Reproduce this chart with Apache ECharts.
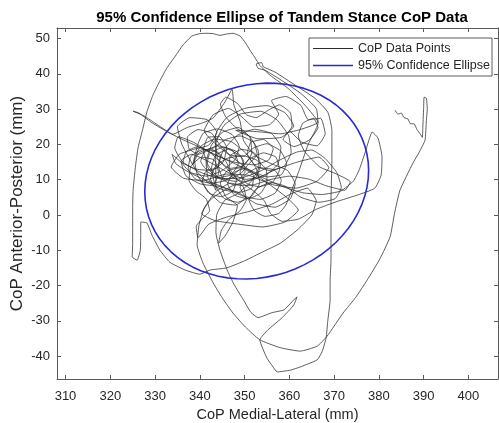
<!DOCTYPE html>
<html>
<head>
<meta charset="utf-8">
<script src="https://cdn.jsdelivr.net/npm/echarts@6/dist/echarts.min.js"></script>
<style>
html,body{margin:0;padding:0;background:#fff;}
#chart{width:499px;height:423px;}
</style>
</head>
<body>
<div id="chart"></div>
<script>
// ---- Axis ranges ----
const xRange = [308.1, 406.6];
const yRange = [-46.5, 53.0];

// ---- Labels ----
const titleText = '95% Confidence Ellipse of Tandem Stance CoP Data';
const xLabel = 'CoP Medial-Lateral (mm)';
const yLabel = 'CoP Anterior-Posterior (mm)';
const seriesNames = ['CoP Data Points', '95% Confidence Ellipse'];

// ---- CoP trajectory (medial-lateral mm, anterior-posterior mm) ----
const copPath = [
[383.6,29.7],[384.2,28.6],[385.0,28.9],[385.6,27.6],[386.5,27.2],[387.0,25.9],[387.9,25.8],[388.5,24.2],[389.2,23.0],[389.7,22.0],[389.8,24.5],[389.9,27.7],[390.0,30.5],[390.1,33.4],[390.6,33.1],[390.8,30.0],[390.6,26.8],[390.3,21.2],[389.0,17.8],[387.6,14.7],[384.7,7.0],[383.5,0.5],[382.5,-6.2],[380.2,-12.5],[377.4,-18.4],[374.8,-23.4],[372.0,-27.8],[368.4,-34.4],[366.2,-37.2],[362.4,-38.6],[357.9,-37.6],[353.4,-35.4],[350.2,-31.8],[347.4,-27.8],[345.0,-23.5],[343.0,-19.3],[340.7,-13.6],[339.4,-8.5],[339.8,-3.0],[341.0,2.0],
[343.5,6.5],[346.8,9.0],[349.6,8.2],[350.3,5.1],[348.0,2.8],[344.6,3.5],[341.8,6.8],[339.5,11.2],[338.8,15.6],[340.2,19.5],[343.4,21.5],[347.0,20.8],[350.2,17.6],[352.5,13.4],[353.4,9.2],[351.6,5.4],[348.4,3.6],[345.3,4.8],[343.4,8.6],[342.6,13.2],[343.6,17.0],[346.4,18.6],[349.2,16.4],[350.1,12.3],[348.2,9.5],[345.2,10.3],[344.1,14.2],[345.3,18.4],[348.4,22.6],[352.2,24.3],[356.0,23.1],[358.1,19.2],[357.4,14.3],[354.4,11.0],[350.2,10.1],[346.1,12.2],[342.0,15.1],[338.2,17.2],[335.8,15.3],[336.9,11.1],[340.1,8.8],[344.2,8.1],[348.5,6.4],[352.6,3.2],[356.8,2.2],[360.2,4.6],[361.3,8.8],[359.6,12.6],[356.2,14.4],[352.4,16.8],[349.8,21.0],[349.0,26.5],[347.6,31.2],[347.2,35.6],
[345.6,32.0],[343.0,27.5],[340.4,26.0],[337.2,24.8],[334.0,22.9],[330.5,25.6],[327.5,28.1],[325.1,29.4],[326.4,28.9],[329.0,26.4],[332.4,23.8],[336.1,21.4],[340.0,19.2],[344.6,16.4],[349.4,13.6],[354.0,10.6],[358.6,8.0],[363.0,6.3],[367.2,5.8],[371.5,6.8],[374.3,9.6],[375.6,12.8],[377.0,18.0],[378.5,23.5],[379.8,21.8],[380.7,16.4],[380.5,11.3],[379.1,7.6],[375.1,5.6],[370.6,3.8],[366.0,1.6],[362.0,-1.2],[358.4,-1.8],[355.8,0.4],[354.4,4.0],[352.0,6.8],[348.6,9.8],[345.4,14.0],[342.2,17.8],[339.4,19.3],[337.0,18.0],[336.2,14.6],[338.0,12.0],[341.6,11.0],[345.0,12.6],[347.8,15.6],[348.8,19.4],[347.2,22.8],[344.0,24.4],[340.8,23.2],[339.6,20.2],
[338.4,14.2],[339.8,17.6],[342.4,18.8],[344.6,16.6],[344.0,13.4],[341.6,12.8],[340.2,15.2],[341.2,18.2],[344.2,19.6],[347.4,18.2],[348.6,14.6],[347.0,11.4],[344.0,10.6],[341.4,12.4],[340.6,9.6],[342.0,6.2],[344.8,5.2],[347.4,6.8],[348.2,10.2],[346.6,13.4],[346.8,16.8],[349.4,18.6],[352.2,17.6],[353.6,14.4],[352.6,10.8],[349.8,9.4],[347.2,10.8],[346.0,14.8],[344.0,17.8],[340.8,18.6],[338.0,16.6],[337.4,13.0],[339.2,10.0],[342.6,9.0],[345.8,9.8],[348.6,12.6],[351.0,15.8],[354.2,17.6],[357.0,16.4],[357.8,12.8],[356.2,9.2],[353.2,8.0],[350.4,9.0],[349.0,12.0],[349.8,15.2],[348.2,18.0],[345.2,19.2],[342.2,17.4],[341.6,14.0],[343.4,11.0],[346.4,10.2],[349.2,11.8],[350.6,14.0],[352.8,17.2],[352.0,20.6],[349.0,22.4],[345.8,21.4],[343.0,19.0],[339.6,17.2],[337.6,18.8],[337.2,22.0],[339.6,24.2],[342.6,23.2],[344.4,20.0],[346.8,17.0],[349.8,16.6],[352.0,19.0],[355.0,20.2],[358.0,18.2],[359.4,14.6],[358.2,11.4],[355.0,10.8],[352.4,12.0],[350.2,13.2],[347.6,12.0],[346.2,8.8],[347.8,5.6],[350.8,4.6],[353.6,6.2],[355.0,9.4],[354.8,13.0],[352.6,15.6],[349.6,16.8],[346.0,16.0],[343.4,13.6],[342.4,10.2],[343.6,7.0],
[343.5,22.6],[346.0,27.6],[350.0,30.2],[355.0,31.0],[359.0,29.0],[361.0,25.2],[358.2,22.0],[353.0,21.6],[348.0,24.0],[353.0,23.6],[358.0,23.0],[362.4,24.2],[366.4,26.3],[363.5,31.1],[359.7,35.9],[355.7,39.6],
[353.4,42.4],[352.8,43.6],[352.0,45.2],[351.2,46.7],[350.2,48.8],[349.0,50.7],[347.4,51.5],[346.0,51.3],[344.5,50.9],[343.0,51.4],[341.6,51.5],[340.0,51.4],[338.2,50.7],[336.2,48.1],[334.4,44.8],[332.6,41.6],[331.0,37.8],[329.5,33.9],[328.2,29.3],[327.3,24.6],[326.2,19.0],[325.6,13.5],[325.1,7.0],[325.0,2.0],[325.0,-3.5],[325.0,-8.0],[324.9,-11.9],[326.0,-12.8],[326.7,-10.0],[326.8,-5.8],[326.8,-2.0],[328.2,-2.3],[329.3,-5.7],[331.1,-10.0],[333.3,-13.4],[336.7,-15.6],[340.0,-16.8],[342.3,-15.6],
[346.0,-15.0],[350.0,-13.0],[354.0,-10.5],[358.0,-8.0],[362.0,-4.0],[365.0,0.0],[366.0,4.0],[364.0,7.6],[360.4,6.0],[356.0,3.0],[351.0,1.0],[346.0,-0.6],[342.0,-2.6],[339.6,-6.4],[339.2,-3.2],[340.6,-1.0],
[342.2,1.2],[341.4,4.6],[339.2,6.8],[337.6,9.8],[338.0,13.8],[340.4,16.4],[343.2,15.6],[344.2,12.0],[343.0,8.4],[341.8,10.6],[341.4,14.8],[342.6,19.8],[345.0,23.4],[348.6,24.8],[351.2,22.0],[351.6,17.6],[349.8,14.0],[346.6,13.2],[344.0,16.0],[343.6,20.2],[345.4,25.4],[349.0,28.6],[353.6,29.4],[357.2,27.0],[359.8,22.6],[360.4,17.8],[358.8,13.8],[355.6,12.6],[352.4,14.0],[350.6,17.4],[351.4,20.6],[354.2,21.4],[356.4,18.8],[355.4,15.6],[352.0,14.2],[347.6,15.0],[343.0,17.2],[338.6,20.6],[335.2,22.2],[334.4,19.0],[336.2,15.0],[340.0,12.2],[344.8,10.2],[349.6,10.6],[353.8,12.6],[357.6,15.4],[361.6,17.8],[365.0,18.4],[368.0,16.0],[370.6,12.0],[371.6,7.8],[370.2,4.6],[366.6,3.6],[362.6,5.0],[359.0,8.2],[355.8,9.2],[352.6,7.4],[351.0,4.2],[352.2,1.2],[354.6,-0.4],[357.6,0.4],[359.2,2.8],
[362.0,12.0],[364.2,20.0],[366.4,26.0],[366.0,30.2],[362.5,34.5],[358.2,38.2],[354.6,41.0],[353.0,41.6],[352.6,42.8],[353.8,43.2],[354.2,42.0],[356.8,40.5],[361.3,36.8],[365.7,33.1],[368.6,29.1],[369.5,24.0],[369.5,15.5],[369.3,4.2],[369.3,-1.5],[369.3,-7.0],[369.3,-12.8],[369.1,-18.6],[369.1,-24.1],[368.6,-29.8],[368.2,-34.9],[367.3,-38.8],[366.2,-41.1],[364.2,-42.2],[362.4,-43.1],[360.2,-44.0],[357.3,-44.5],[356.2,-42.8],[355.0,-40.6],[353.4,-35.4],[355.2,-32.6],[358.4,-29.1],[361.0,-25.5],[361.7,-23.2],[360.6,-24.6],[358.8,-26.9],[356.1,-27.7],[353.0,-29.1],[351.4,-27.6],[349.7,-24.0],[347.6,-19.6],[346.1,-15.6],[344.5,-10.0],[343.6,-5.0],[343.8,0.2],
[345.6,4.2],[348.4,6.0],[351.4,9.4],[353.2,13.6],[353.0,18.4],[351.0,22.4],[348.2,24.6],[345.8,27.8],[344.6,31.4],[345.8,33.4],[348.4,31.6],[350.4,28.4],[352.6,27.6],[355.4,29.8],[357.8,31.2],[360.2,29.0],[360.6,25.2],[358.6,21.4],[361.0,19.4],[364.4,21.2],[366.4,24.8],[365.4,27.4],[363.0,26.0],[362.0,22.4],[363.4,18.0],[366.8,13.6],[370.2,11.8],[373.6,9.4],[372.4,7.0],[368.4,8.2],[364.2,10.2],[360.0,11.0],[355.6,10.0],[351.4,8.4],[347.4,8.6],[344.0,10.8],[341.8,14.2],[340.8,18.4],[341.8,22.0],[344.4,22.2],[346.0,19.0],[345.2,15.0],[342.6,12.6],[339.2,13.0],[336.0,14.8],[333.8,17.2],[334.6,14.6],[337.4,12.2],[341.0,10.0],[345.4,7.8],[349.6,5.4],[353.4,4.4],[356.8,6.2],[358.2,9.8],[356.6,12.8],[353.0,13.4],[350.0,11.2],[349.0,7.8],[350.4,4.4],[349.0,1.2],[346.4,-1.4],[344.8,-4.4],[344.2,-8.0],[345.6,-6.0],[347.4,-2.0],[348.4,2.6],[345.8,5.2],[344.6,9.0],[346.0,12.4],[349.2,13.4],[352.0,11.2],[351.6,7.6],[348.8,6.4],[345.0,7.2],[341.6,9.4],[339.2,12.6],
[336.0,20.0],[335.0,25.0],[337.8,27.6],[341.6,27.0],[343.8,23.4],[342.0,19.8],[338.6,18.6],[335.4,17.2],[333.6,13.6],[336.4,10.4],[340.8,9.8],[346.0,11.6],[351.0,11.2],[356.2,8.6],[361.4,7.6],[366.2,9.6],[368.8,13.4],[366.6,16.4],[361.8,15.0],[357.2,13.0],[352.4,10.2],[347.2,8.2],[342.6,4.6],[340.4,0.4],[343.4,-1.6],[348.6,-2.6],[354.0,-3.4],[359.0,-2.0],[362.0,1.4],[359.2,5.2],
[341.0,24.0],[343.0,28.4],[346.4,30.2],[349.2,28.0],[352.0,25.0],[355.6,25.6],[357.6,28.6],[356.0,32.4],[359.2,33.6],[362.6,31.0],[364.2,27.0],[367.0,27.4],[368.0,23.0],[366.2,19.6],[362.8,20.6],[360.0,24.0]
];

// ---- 95% confidence ellipse outline, every 5 degrees ----
const ellipsePath = [
[377.70,12.60],[377.61,14.99],[377.32,17.35],[376.85,19.64],[376.19,21.86],[375.36,23.98],[374.35,26.00],[373.18,27.89],[371.85,29.64],[370.38,31.24],[368.77,32.67],[367.04,33.93],[365.20,35.00],[363.27,35.88],[361.25,36.56],[359.17,37.04],[357.04,37.30],[354.88,37.36],[352.70,37.20],
[350.52,36.83],[348.36,36.26],[346.23,35.48],[344.15,34.51],[342.13,33.35],[340.20,32.00],[338.36,30.49],[336.63,28.82],[335.02,27.00],[333.55,25.04],[332.22,22.97],[331.05,20.80],[330.04,18.55],[329.21,16.22],[328.55,13.85],[328.08,11.44],[327.80,9.02],[327.70,6.60],
[327.80,4.21],[328.08,1.85],[328.55,-0.44],[329.21,-2.66],[330.04,-4.78],[331.05,-6.80],[332.22,-8.69],[333.55,-10.44],[335.02,-12.04],[336.63,-13.47],[338.36,-14.73],[340.20,-15.80],[342.13,-16.68],[344.15,-17.36],[346.23,-17.84],[348.36,-18.10],[350.52,-18.16],[352.70,-18.00],
[354.88,-17.63],[357.04,-17.06],[359.17,-16.28],[361.25,-15.31],[363.27,-14.15],[365.20,-12.80],[367.04,-11.29],[368.77,-9.62],[370.38,-7.80],[371.85,-5.84],[373.18,-3.77],[374.35,-1.60],[375.36,0.66],[376.19,2.98],[376.85,5.35],[377.32,7.76],[377.61,10.18],[377.70,12.60]
];

const FONT = 'Liberation Sans, Arial, Helvetica, sans-serif';
const TXT = '#262626';
const AX = '#5a5a5a';
const COP_COLOR = '#2c2c2c';
const ELL_COLOR = '#2a2ad0';

const chart = echarts.init(document.getElementById('chart'), null, {renderer: 'canvas'});

const baseAxis = {
  type: 'value',
  scale: true,
  splitNumber: 10,
  splitLine: {show: false},
  axisLine: {show: true, onZero: false, lineStyle: {color: AX, width: 1}},
  axisTick: {show: true, inside: true, length: 4, lineStyle: {color: AX, width: 1}},
};

chart.setOption({
  animation: false,
  backgroundColor: '#ffffff',
  title: {
    text: titleText,
    left: 277, top: 5, textAlign: 'center',
    textStyle: {fontFamily: FONT, fontSize: 15, fontWeight: 'bold', color: '#000'}
  },
  grid: {left: 57, right: 1, top: 28, bottom: 44, containLabel: false, outerBoundsMode: 'none'},
  legend: {
    orient: 'vertical',
    left: 309, top: 38,
    padding: [4, 2, 4, 4],
    itemWidth: 40, itemHeight: 12, itemGap: 4,
    backgroundColor: '#fff',
    borderColor: '#333', borderWidth: 0.8, borderRadius: 0,
    textStyle: {fontFamily: FONT, fontSize: 12.5, color: TXT},
    data: [
      {name: seriesNames[0], icon: 'path://M0,0H40V1H0Z', itemStyle: {color: COP_COLOR}},
      {name: seriesNames[1], icon: 'path://M0,0H40V1.7H0Z', itemStyle: {color: ELL_COLOR}}
    ]
  },
  xAxis: [
    Object.assign({}, baseAxis, {
      position: 'bottom', min: xRange[0], max: xRange[1],
      name: xLabel, nameLocation: 'middle', nameGap: 28, nameMoveOverlap: false,
      nameTextStyle: {fontFamily: FONT, fontSize: 14.5, color: TXT},
      axisLabel: {fontFamily: FONT, fontSize: 13, color: TXT, margin: 11, showMinLabel: false, showMaxLabel: false}
    }),
    Object.assign({}, baseAxis, {
      position: 'top', min: xRange[0], max: xRange[1],
      axisLabel: {show: false}
    })
  ],
  yAxis: [
    Object.assign({}, baseAxis, {
      position: 'left', min: yRange[0], max: yRange[1],
      name: yLabel, nameLocation: 'middle', nameGap: 31, nameMoveOverlap: false,
      nameTextStyle: {fontFamily: FONT, fontSize: 17, color: TXT},
      axisLabel: {fontFamily: FONT, fontSize: 13, color: TXT, margin: 7, showMinLabel: false, showMaxLabel: false}
    }),
    Object.assign({}, baseAxis, {
      position: 'right', min: yRange[0], max: yRange[1],
      axisLabel: {show: false}
    })
  ],
  series: [
    {
      name: seriesNames[0], type: 'line', data: copPath,
      xAxisIndex: 0, yAxisIndex: 0,
      symbol: 'none', smooth: 0.15,
      lineStyle: {color: COP_COLOR, width: 0.85, opacity: 0.9},
      itemStyle: {color: COP_COLOR}
    },
    {
      name: seriesNames[1], type: 'line', data: ellipsePath,
      xAxisIndex: 0, yAxisIndex: 0,
      symbol: 'none', smooth: false,
      lineStyle: {color: ELL_COLOR, width: 1.6},
      itemStyle: {color: ELL_COLOR}
    }
  ]
});
</script>
</body>
</html>
